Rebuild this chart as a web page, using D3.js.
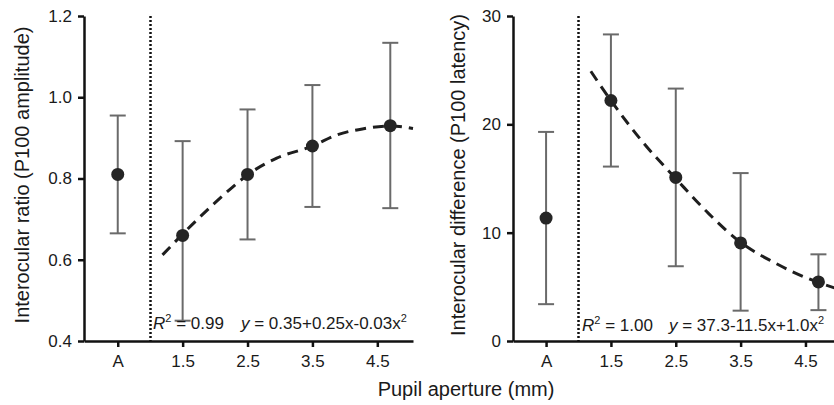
<html>

<head>
    <style>
        body { margin: 0; background: #fff; }
        text { font-family: "Liberation Sans", Arial, sans-serif; fill: #1a1a1a; }
        .axis path, .axis line { stroke: #111; stroke-width: 2.5; }
        .axis text { font-size: 17px; }
        .err { stroke: #6a6a6a; stroke-width: 2; fill: none; }
        .fit { stroke: #1e1e1e; stroke-width: 3; fill: none; stroke-dasharray: 11, 7; }
        .sep { stroke: #111; stroke-width: 2.5; stroke-dasharray: 2, 2; }
    </style>
</head>

<body>
    <svg id="chart" height="405" width="834"></svg>
</body>
<script src="https://cdn.jsdelivr.net/npm/d3@7"></script>
<script>
    // shared x categories (A = unaided, others = pupil aperture in mm)
    let xTickVals = [0.5, 1.5, 2.5, 3.5, 4.5]
    let xLabels = ["A", "1.5", "2.5", "3.5", "4.5"]
    let pointX = [0.5, 1.5, 2.5, 3.5, 4.7]

    // left panel: interocular ratio of P100 amplitude
    let ampMean = [0.81, 0.66, 0.81, 0.88, 0.93]
    let ampLow = [0.665, 0.45, 0.65, 0.73, 0.727]
    let ampHigh = [0.955, 0.892, 0.97, 1.03, 1.134]
    let ampFitX = [1.19, 1.72, 2.27, 2.5, 2.95, 3.5, 3.87, 4.27, 4.72, 5.05]
    let ampFitY = [0.612, 0.698, 0.779, 0.809, 0.85, 0.88, 0.907, 0.922, 0.929, 0.923]
    let ampTicks = [0.4, 0.6, 0.8, 1.0, 1.2]

    // right panel: interocular difference of P100 latency
    let latMean = [11.35, 22.2, 15.1, 9.05, 5.45]
    let latLow = [3.4, 16.1, 6.9, 2.8, 2.85]
    let latHigh = [19.3, 28.3, 23.3, 15.5, 8.0]
    let latFitX = [1.19, 1.5, 2.0, 2.5, 3.0, 3.5, 4.0, 4.7, 4.95]
    let latFitY = [24.9, 22.2, 18.3, 15.0, 11.8, 9.1, 7.3, 5.4, 4.9]
    let latTicks = [0, 10, 20, 30]

    let svg = d3.select("#chart")

    function drawPanel(opt) {
        let x = d3.scaleLinear().domain(opt.xDomain).range(opt.xRange)
        let y = d3.scaleLinear().domain(opt.yDomain).range([341, 16])
        let g = svg.append("g")

        // separator between A and the aperture conditions
        let sx = Math.round(x(1)) + 0.5
        g.append("line")
            .attr("class", "sep")
            .attr("x1", sx).attr("x2", sx)
            .attr("y1", y(opt.yDomain[1])).attr("y2", y(opt.yDomain[0]))

        let pts = opt.mean.map((m, i) => ({ x: pointX[i], m: m, lo: opt.low[i], hi: opt.high[i] }))

        let bars = g.append("g").selectAll("g").data(pts).enter().append("g")
        bars.append("line").attr("class", "err")
            .attr("x1", d => x(d.x)).attr("x2", d => x(d.x))
            .attr("y1", d => y(d.lo)).attr("y2", d => y(d.hi))
        bars.append("line").attr("class", "err")
            .attr("x1", d => x(d.x) - 8).attr("x2", d => x(d.x) + 8)
            .attr("y1", d => y(d.hi)).attr("y2", d => y(d.hi))
        bars.append("line").attr("class", "err")
            .attr("x1", d => x(d.x) - 8).attr("x2", d => x(d.x) + 8)
            .attr("y1", d => y(d.lo)).attr("y2", d => y(d.lo))

        let fit = opt.fitX.map((v, i) => [v, opt.fitY[i]])
        g.append("path")
            .attr("class", "fit")
            .attr("d", d3.line().x(d => x(d[0])).y(d => y(d[1])).curve(d3.curveMonotoneX)(fit))

        g.append("g").selectAll("circle").data(pts).enter().append("circle")
            .attr("cx", d => x(d.x)).attr("cy", d => y(d.m))
            .attr("r", 6.5).attr("fill", "#252525")

        // axes
        g.append("g")
            .attr("class", "axis")
            .attr("transform", "translate(0,341)")
            .call(d3.axisBottom(x).tickValues(xTickVals)
                .tickFormat((d, i) => xLabels[i]).tickSize(6).tickSizeOuter(0).tickPadding(8))
        g.append("g")
            .attr("class", "axis")
            .attr("transform", "translate(" + opt.xRange[0] + ",0)")
            .call(d3.axisLeft(y).tickValues(opt.ticks)
                .tickFormat(opt.fmt).tickSize(6).tickSizeOuter(0).tickPadding(6))
        g.selectAll(".axis text").attr("fill", "#1a1a1a")

        // y axis title
        g.append("text")
            .attr("transform", "translate(" + opt.titleX + ",175) rotate(-90)")
            .attr("text-anchor", "middle")
            .style("font-size", "20px")
            .text(opt.title)

        // fit annotation
        let r2 = g.append("text").attr("x", opt.r2X).attr("y", opt.annY).style("font-size", "17px")
        r2.append("tspan").attr("font-style", "italic").text("R")
        r2.append("tspan").attr("dy", -7).style("font-size", "11px").text("2")
        r2.append("tspan").attr("dy", 7).text(" = " + opt.r2)

        let eq = g.append("text").attr("x", opt.eqX).attr("y", opt.annY).style("font-size", "17px")
        eq.append("tspan").attr("font-style", "italic").text("y")
        eq.append("tspan").text(" = " + opt.eq)
        eq.append("tspan").attr("dy", -7).style("font-size", "11px").text("2")
    }

    drawPanel({
        xDomain: [-0.02, 5.05], xRange: [84, 413], yDomain: [0.4, 1.2],
        mean: ampMean, low: ampLow, high: ampHigh, fitX: ampFitX, fitY: ampFitY,
        ticks: ampTicks, fmt: d3.format(".1f"),
        title: "Interocular ratio (P100 amplitude)", titleX: 29,
        r2: "0.99", eq: "0.35+0.25x-0.03x", r2X: 153, eqX: 241, annY: 329
    })

    drawPanel({
        xDomain: [-0.01, 4.94], xRange: [513, 834], yDomain: [0, 30],
        mean: latMean, low: latLow, high: latHigh, fitX: latFitX, fitY: latFitY,
        ticks: latTicks, fmt: d3.format("d"),
        title: "Interocular difference (P100 latency)", titleX: 465,
        r2: "1.00", eq: "37.3-11.5x+1.0x", r2X: 582, eqX: 669, annY: 331
    })

    svg.append("text")
        .attr("x", 466).attr("y", 396)
        .attr("text-anchor", "middle")
        .style("font-size", "20px")
        .text("Pupil aperture (mm)")
</script>

</html>
